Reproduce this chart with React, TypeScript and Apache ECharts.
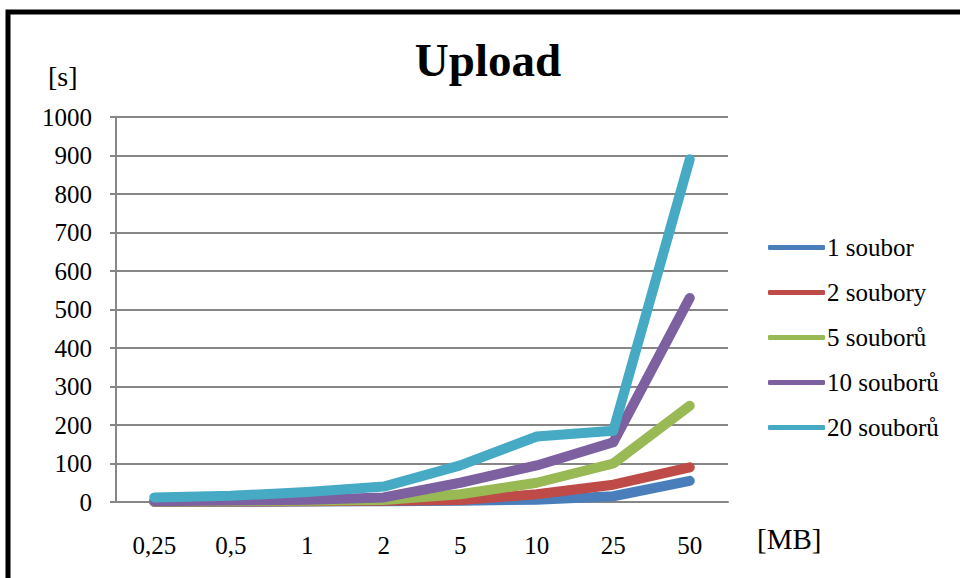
import React, { useEffect, useRef } from "react";
import * as echarts from "echarts";

const categories = ["0,25", "0,5", "1", "2", "5", "10", "25", "50"];
const seriesNames = ["1 soubor", "2 soubory", "5 souborů", "10 souborů", "20 souborů"];
const oneFile = [0.3, 0.5, 1, 2, 3, 6, 15, 55];
const twoFiles = [0.5, 1, 2, 3, 5, 20, 45, 90];
const fiveFiles = [1, 2, 3, 5, 20, 50, 100, 250];
const tenFiles = [2, 4, 6, 12, 50, 95, 155, 530];
const twentyFiles = [12, 16, 26, 40, 95, 170, 185, 890];
const colors = ["#4A7EBB", "#BE4B48", "#98B954", "#7D60A0", "#46AAC5"];

const FONT = "Liberation Serif";

export default function App() {
  const ref = useRef<HTMLDivElement>(null);

  useEffect(() => {
    if (!ref.current) return;
    const chart = echarts.init(ref.current, null, { renderer: "svg" });
    const values = [oneFile, twoFiles, fiveFiles, tenFiles, twentyFiles];
    chart.setOption({
      animation: false,
      backgroundColor: "#ffffff",
      color: colors,
      textStyle: { fontFamily: FONT },
      title: {
        text: "Upload",
        left: 483,
        top: 31,
        textAlign: "center",
        textStyle: { fontFamily: FONT, fontSize: 47, fontWeight: "bold", color: "#000" },
      },
      legend: {
        orient: "vertical",
        left: 763,
        top: 230,
        itemWidth: 57,
        itemHeight: 5,
        itemGap: 20,
        icon: "roundRect",
        textStyle: { fontFamily: FONT, fontSize: 25, color: "#000", padding: [0, 0, 0, -3] },
        data: seriesNames,
      },
      grid: { left: 116, right: 232, top: 117, bottom: 76, containLabel: false },
      xAxis: {
        type: "category",
        data: categories,
        boundaryGap: true,
        axisLine: { lineStyle: { color: "#868686", width: 2 } },
        axisTick: { length: 8, lineStyle: { color: "#868686", width: 2 } },
        axisLabel: { margin: 31, fontFamily: FONT, fontSize: 25, color: "#000" },
      },
      yAxis: {
        type: "value",
        min: 0,
        max: 1000,
        interval: 100,
        axisLine: { show: true, lineStyle: { color: "#868686", width: 2 } },
        axisTick: { show: true, length: 6, lineStyle: { color: "#868686", width: 2 } },
        splitLine: { lineStyle: { color: "#868686", width: 2 } },
        axisLabel: {
          margin: 24,
          fontFamily: FONT,
          fontSize: 25,
          color: "#000",
          formatter: (v: number) => String(v),
        },
      },
      series: seriesNames.map((name, i) => ({
        name,
        type: "line",
        data: values[i],
        showSymbol: false,
        symbol: "none",
        lineStyle: { width: 10, cap: "round", join: "round", color: colors[i] },
        itemStyle: { color: colors[i] },
        z: 2 + i,
      })),
      graphic: [
        {
          type: "rect",
          shape: { x: 8, y: 12, width: 1100, height: 800 },
          style: { fill: "none", stroke: "#000", lineWidth: 5 },
          silent: true,
        },
        {
          type: "text",
          left: 48,
          top: 62,
          style: { text: "[s]", fontFamily: FONT, fontSize: 28, fill: "#000" },
        },
        {
          type: "text",
          left: 757,
          top: 524,
          style: { text: "[MB]", fontFamily: FONT, fontSize: 29, fill: "#000" },
        },
      ],
    });
    return () => chart.dispose();
  }, []);

  return (
    <div
      ref={ref}
      style={{ position: "absolute", left: 0, top: 0, width: 960, height: 578 }}
    />
  );
}
